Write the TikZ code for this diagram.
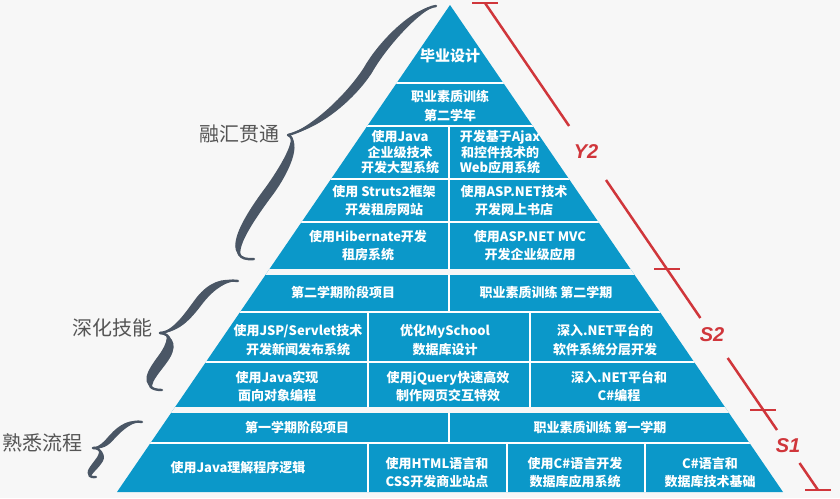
\documentclass[tikz,border=0pt]{standalone}
\usepackage{fontspec}
\setmainfont{Noto Sans CJK SC}
\newfontfamily\latf{Liberation Sans}
\usetikzlibrary{calc}
\definecolor{pyblue}{HTML}{0B98C9}
\definecolor{bgc}{HTML}{F7F7F7}
\definecolor{redc}{HTML}{D0363B}
\definecolor{bracec}{HTML}{4A5665}
\definecolor{labc}{HTML}{555555}
% half brace as a tapered lens round the centre line #1..#7, #8 = full thickness vector
\newcommand\lensbrace[8]{%
  \fill[bracec] #1 .. controls ($#2-0.45*#8$) and ($#3-0.6*#8$) .. ($#4-0.6*#8$)
     .. controls ($#5-0.6*#8$) and ($#6-0.45*#8$) .. #7
     .. controls ($#6+0.45*#8$) and ($#5+0.6*#8$) .. ($#4+0.6*#8$)
     .. controls ($#3+0.6*#8$) and ($#2+0.45*#8$) .. #1 -- cycle;
  \draw[bracec, line width=2.4pt, line cap=round] #1 .. controls #2 and #3 .. #4 .. controls #5 and #6 .. #7;}
\begin{document}
\begin{tikzpicture}[x=1pt,y=-1pt,
  cell/.style={text=white, align=center, inner sep=0pt, font=\bfseries\fontsize{13}{18.5}\selectfont},
  tightcell/.style={cell, font=\bfseries\fontsize{13}{15.5}\selectfont},
  bigcell/.style={cell, font=\bfseries\fontsize{15}{18}\selectfont},
  gapline/.style={white, line width=2pt},
  redline/.style={redc, line width=2.5pt},
  redlab/.style={text=redc, inner sep=0pt, font=\latf\bfseries\itshape\fontsize{20}{20}\selectfont},
  sidelab/.style={text=labc, inner sep=0pt, font=\fontsize{20}{20}\selectfont}]
\useasboundingbox (0,0) rectangle (840,498);
\fill[bgc] (0,0) rectangle (840,498);

% pyramid
\coordinate (apex) at (450,5);
\coordinate (bl) at (117,492);
\coordinate (br) at (783,492);
\begin{scope}
  \clip (apex) -- (br) -- (bl) -- cycle;
  \fill[pyblue] (0,0) rectangle (840,498);
  \draw[gapline] (0,83) -- (840,83);
  \draw[gapline] (0,126) -- (840,126);
  \draw[gapline] (0,179) -- (840,179);
  \draw[gapline] (0,222) -- (840,222);
  \fill[bgc] (0,268.5) rectangle (840,274.5);
  \draw[gapline] (0,312) -- (840,312);
  \draw[gapline] (0,362) -- (840,362);
  \fill[bgc] (0,406.5) rectangle (840,412.5);
  \draw[gapline] (0,443) -- (840,443);
  \draw[gapline] (449,126) -- (449,268.5);
  \draw[gapline] (449,274.5) -- (449,312);
  \draw[gapline] (368,312) -- (368,406.5);
  \draw[gapline] (530,312) -- (530,406.5);
  \draw[gapline] (449,412.5) -- (449,443);
  \draw[gapline] (368,443) -- (368,498);
  \draw[gapline] (507,443) -- (507,498);
  \draw[gapline] (645,443) -- (645,498);
\end{scope}

% cell texts
\node[bigcell] (r1) at (450,56) {毕业设计};
\node[cell] (r2) at (450,106) {职业素质训练\\第二学年};
\node[tightcell] (r3a) at (400,152.5) {使用Java\\企业级技术\\开发大型系统};
\node[tightcell] (r3b) at (500,152.5) {开发基于Ajax\\和控件技术的\\Web应用系统};
\node[cell] (r4a) at (384,200.5) {使用 Struts2框架\\开发租房网站};
\node[cell] (r4b) at (514,200.5) {使用ASP.NET技术\\开发网上书店};
\node[cell] (r5a) at (368,245.5) {使用Hibernate开发\\租房系统};
\node[cell] (r5b) at (530,245.5) {使用ASP.NET MVC\\开发企业级应用};
\node[cell] (r6a) at (343,292) {第二学期阶段项目};
\node[cell] (r6b) at (546,292) {职业素质训练 第二学期};
\node[cell] (r7a) at (298,340) {使用JSP/Servlet技术\\开发新闻发布系统};
\node[cell] (r7b) at (445,340) {优化MySchool\\数据库设计};
\node[cell] (r7c) at (605,340) {深入.NET平台的\\软件系统分层开发};
\node[cell] (r8a) at (277,386.5) {使用Java实现\\面向对象编程};
\node[cell] (r8b) at (448,386.5) {使用jQuery快速高效\\制作网页交互特效};
\node[cell] (r8c) at (619,386.5) {深入.NET平台和\\C\#编程};
\node[cell] (r9a) at (297,427.5) {第一学期阶段项目};
\node[cell] (r9b) at (600,427.5) {职业素质训练 第一学期};
\node[cell] (r10a) at (238,468) {使用Java理解程序逻辑};
\node[cell] (r10b) at (437,472.5) {使用HTML语言和\\CSS开发商业站点};
\node[cell] (r10c) at (575,472.5) {使用C\#语言开发\\数据库应用系统};
\node[cell] (r10d) at (710,472.5) {C\#语言和\\数据库技术基础};

% red scale line
\draw[redline] (485,3) -- (569.1,126);
\draw[redline] (606,180) -- (700.4,318);
\draw[redline] (727.7,358) -- (777,430);
\draw[redline] (799.5,463) -- (818,490);
\draw[redline] (472,3) -- (498,3);
\draw[redline] (654,269) -- (680,269);
\draw[redline] (750,410) -- (776,410);
\draw[redline] (805,490) -- (831,490);
\node[redlab] (y2) at (586,152) {Y2};
\node[redlab] (s2) at (712,335) {S2};
\node[redlab] (s1) at (788,446) {S1};

% braces
\lensbrace{(436,6)}{(418,8)}{(384,42)}{(368,70)}{(352,95)}{(318,127)}{(288,135)}{(6.7,4.3)}
\lensbrace{(288,135)}{(301,140)}{(283,172)}{(270,190)}{(243,226)}{(222,262)}{(254,259)}{(6.8,5.1)}
\lensbrace{(238,281)}{(225,279)}{(212,285)}{(200,300)}{(190,313)}{(178,331)}{(160,333)}{(5.5,4.4)}
\lensbrace{(160,333)}{(172,334)}{(174,344)}{(162,360)}{(154,371)}{(138,390)}{(162,390)}{(7.2,5.4)}
\lensbrace{(142,422)}{(132,420)}{(122,426)}{(112,437)}{(106,444)}{(101,448)}{(93,448)}{(3.7,3.3)}
\lensbrace{(93,448)}{(102,448)}{(104,455)}{(98,462)}{(94,468)}{(82,478)}{(96,477)}{(4.8,3.6)}

% side labels
\node[sidelab] (l1) at (239,134) {融汇贯通};
\node[sidelab] (l2) at (112,328) {深化技能};
\node[sidelab] (l3) at (42,443) {熟悉流程};
\end{tikzpicture}
\end{document}
